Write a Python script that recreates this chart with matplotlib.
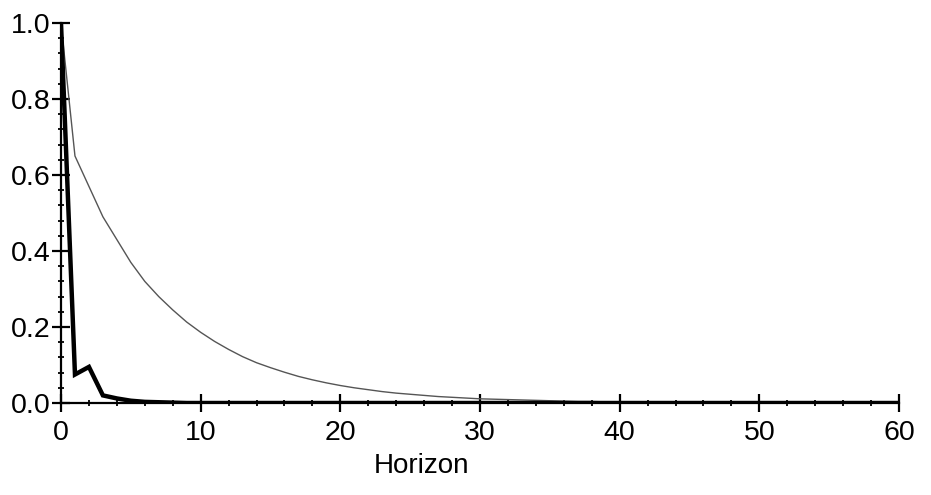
import numpy as np
import matplotlib
matplotlib.use('Agg')
import matplotlib.pyplot as plt
from matplotlib.ticker import MultipleLocator

plt.rcParams['font.family'] = ['Liberation Sans', 'DejaVu Sans']

horizon = list(range(61))

# thin grey response
slow = [1.0, 0.65, 0.57, 0.49, 0.43, 0.37, 0.32, 0.28, 0.245, 0.213,
        0.186, 0.162, 0.141, 0.122, 0.106, 0.093, 0.081, 0.070, 0.061, 0.053,
        0.046, 0.040, 0.035, 0.030, 0.026, 0.023, 0.020, 0.017, 0.015, 0.013,
        0.011, 0.010, 0.009, 0.008, 0.007, 0.006, 0.005, 0.004, 0.004, 0.003,
        0.003, 0.002, 0.002, 0.002, 0.001, 0.001, 0.001, 0.001, 0.001, 0.001,
        0.0, 0.0, 0.0, 0.0, 0.0, 0.0, 0.0, 0.0, 0.0, 0.0, 0.0]

# thick black response
fast = [1.0, 0.075, 0.095, 0.02, 0.012, 0.006, 0.003, 0.002, 0.001, 0.0] + [0.0] * 51

fig = plt.figure(figsize=(9.31, 4.95), dpi=100)
ax = fig.add_axes([61 / 931, 1 - 403 / 495, 838 / 931, 380 / 495])

ax.plot(horizon, slow, color='#555555', lw=1.0, zorder=2)
ax.plot(horizon, fast, color='black', lw=3.2, zorder=3, solid_joinstyle='miter')

ax.set_xlim(0, 60)
ax.set_ylim(0, 1.0)
ax.xaxis.set_major_locator(MultipleLocator(10))
ax.xaxis.set_minor_locator(MultipleLocator(2))
ax.yaxis.set_major_locator(MultipleLocator(0.2))
ax.yaxis.set_minor_locator(MultipleLocator(0.04))
ax.yaxis.set_major_formatter(matplotlib.ticker.FormatStrFormatter('%.1f'))

for s in ['top', 'right']:
    ax.spines[s].set_visible(False)
for s in ['left', 'bottom']:
    ax.spines[s].set_linewidth(1.6)
    ax.spines[s].set_clip_on(False)

ax.tick_params(axis='both', which='major', direction='inout', length=13, width=1.6,
               labelsize=20.5, pad=1)
ax.tick_params(axis='x', which='major', pad=6)
ax.tick_params(axis='both', which='minor', direction='inout', length=5, width=1.3)

fig.text(421 / 931, 1 - 466 / 495, 'Horizon', ha='center', va='center', fontsize=20)

fig.savefig('out.png', dpi=100)
